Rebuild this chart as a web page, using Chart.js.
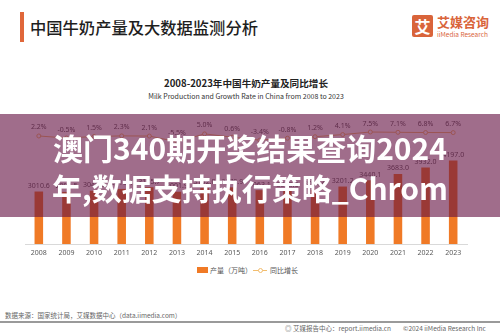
<!DOCTYPE html>
<html><head><meta charset="utf-8">
<script src="https://cdn.jsdelivr.net/npm/chart.js@4/dist/chart.umd.min.js"></script>
<style>
html,body{margin:0;padding:0;background:#fff;}
body{width:500px;height:333px;position:relative;overflow:hidden;font-family:"Noto Sans CJK SC","Noto Sans",sans-serif;}
.abs{position:absolute;white-space:nowrap;}
</style></head><body>
<div class="abs" style="left:20px;top:12px;width:4px;height:30px;background:#E0673A;"></div>
<div class="abs" style="left:30px;top:15px;font-size:16.3px;line-height:24px;font-weight:500;color:#1e1e1e;">中国牛奶产量及大数据监测分析</div>
<div class="abs" style="left:412px;top:15px;width:21px;height:22px;background:#D9643A;border-radius:2px;color:#fff;font-size:16px;font-weight:bold;line-height:22px;text-align:center;">艾</div>
<div class="abs" style="left:437px;top:14px;font-size:13px;line-height:16px;font-weight:bold;color:#D9643A;">艾媒咨询</div>
<div class="abs" style="left:437px;top:30px;font-size:6.5px;line-height:8px;color:#D9643A;">iiMedia Research</div>

<div class="abs" style="left:0;width:492px;top:76px;text-align:center;font-size:9.6px;line-height:14px;font-weight:bold;color:#222;">2008-2023年中国牛奶产量及同比增长</div>
<div class="abs" style="left:0;width:492px;top:91px;text-align:center;font-size:7px;line-height:10px;color:#333;">Milk Production and Growth Rate in China from 2008 to 2023</div>

<div class="abs" style="left:0;top:110px;width:500px;height:155px;"><canvas id="c"></canvas></div>

<div class="abs" style="left:197px;top:267px;width:11px;height:6px;background:#F07A26;"></div>
<div class="abs" style="left:210px;top:265px;font-size:7px;line-height:10px;color:#555;">产量（万吨）</div>
<div class="abs" style="left:253px;top:269.5px;width:14px;height:1px;background:#F2BD6E;"></div>
<div class="abs" style="left:257.5px;top:267.5px;width:3px;height:3px;border:1px solid #F2BD6E;border-radius:50%;background:#fff;"></div>
<div class="abs" style="left:270px;top:265px;font-size:7px;line-height:10px;color:#555;">同比增长</div>

<div class="abs" style="left:5px;top:311px;font-size:6.5px;line-height:9px;color:#666;">数据来源：国家统计局，艾媒数据中心（data.iimedia.com）</div>
<div class="abs" style="left:0;top:321px;width:500px;height:2px;background:#9a9a9a;"></div>
<div class="abs" style="left:285px;top:324px;font-size:6.5px;line-height:9px;color:#666;">◎ 艾媒报告中心：report.iimedia.cn</div>
<div class="abs" style="left:403px;top:324px;font-size:6.5px;line-height:9px;color:#666;">©2024 iiMedia Research Inc</div>

<div class="abs" style="left:0;top:114px;width:500px;height:103px;background:rgba(99,17,66,0.61);"></div>
<div class="abs" style="left:0;top:127px;width:500px;text-align:center;font-size:30px;line-height:40px;font-weight:bold;color:#fff;">澳门340期开奖结果查询2024</div>
<div class="abs" style="left:0;top:167px;width:500px;text-align:center;font-size:30px;line-height:40px;font-weight:bold;color:#fff;">年,数据支持执行策略_Chrom</div>

<script>
const years = ["2008","2009","2010","2011","2012","2013","2014","2015","2016","2017","2018","2019","2020","2021","2022","2023"];
const production = [3010.6, 2995.5, 3040.5, 3110.4, 3175.7, 3001.9, 3152.0, 3170.9, 3063.1, 3038.6, 3074.6, 3201.2, 3440.1, 3683.0, 3932.0, 4197.0];
const growth = [2.2, -0.5, 1.5, 2.3, 2.1, -5.5, 5.0, 0.6, -3.4, -0.8, 1.2, 4.1, 7.5, 7.1, 6.8, 6.7];

const labelPlugin = {
  id: 'valueLabels',
  afterDatasetsDraw(chart) {
    const ctx = chart.ctx;
    ctx.save();
    ctx.font = '7px "Noto Sans", "DejaVu Sans", sans-serif';
    ctx.fillStyle = '#595959';
    ctx.textAlign = 'center';
    ctx.textBaseline = 'bottom';
    chart.getDatasetMeta(0).data.forEach((el, i) => {
      ctx.fillText(production[i].toFixed(1), el.x, el.y - 2);
    });
    chart.getDatasetMeta(1).data.forEach((el, i) => {
      ctx.fillText(growth[i].toFixed(1) + '%', el.x, el.y - 5);
    });
    ctx.restore();
  }
};

new Chart(document.getElementById('c'), {
  data: {
    labels: years,
    datasets: [
      { type: 'bar', label: '产量（万吨）', data: production, backgroundColor: '#F07A26', yAxisID: 'y', order: 2,
        barPercentage: 0.31, categoryPercentage: 1 },
      { type: 'line', label: '同比增长', data: growth, borderColor: '#F2BD6E', borderWidth: 1,
        pointRadius: 2, pointBackgroundColor: '#fff', pointBorderColor: '#F2BD6E', pointBorderWidth: 1,
        yAxisID: 'y1', order: 1, tension: 0 }
    ]
  },
  options: {
    responsive: true, maintainAspectRatio: false, animation: false,
    layout: { padding: { left: 25, right: 33, top: 10, bottom: 0 } },
    plugins: { legend: { display: false }, tooltip: { enabled: false } },
    scales: {
      x: {
        grid: { display: false, drawTicks: false },
        border: { display: true, color: '#d9d9d9', width: 1 },
        ticks: { color: '#595959', font: { size: 7, family: '"Noto Sans", "DejaVu Sans", sans-serif' }, padding: 5, maxRotation: 0 },
        afterFit(s) { s.height = 21; }
      },
      y: { display: false, min: 1000, max: 5750 },
      y1: { display: false, min: -141.8, max: 23.5 }
    }
  },
  plugins: [labelPlugin]
});
</script>
</body></html>
